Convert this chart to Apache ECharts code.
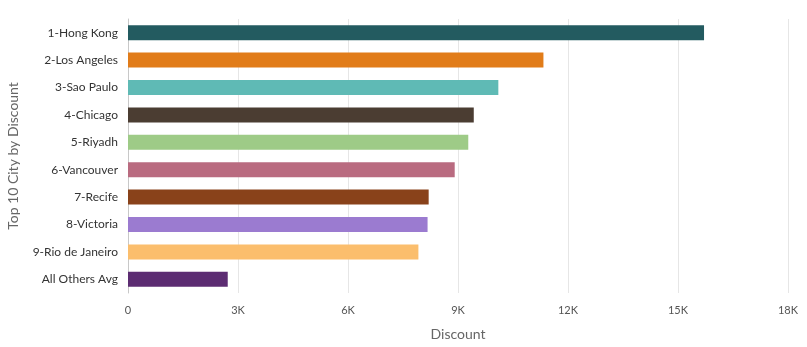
<!DOCTYPE html>
<html>
<head>
<meta charset="utf-8">
<script src="https://cdn.jsdelivr.net/npm/echarts@6/dist/echarts.min.js"></script>
<style>
  html, body { margin: 0; padding: 0; background: #fff; }
  #chart { width: 807px; height: 347px; }
</style>
</head>
<body>
<div id="chart"></div>
<script>
// Top 10 cities ranked by total discount
const cities = ['1-Hong Kong', '2-Los Angeles', '3-Sao Paulo', '4-Chicago', '5-Riyadh',
  '6-Vancouver', '7-Recife', '8-Victoria', '9-Rio de Janeiro', 'All Others Avg'];
const discounts = [15710, 11330, 10100, 9430, 9280, 8910, 8200, 8170, 7920, 2720];
const barColors = ['#235b60', '#e17c19', '#5fbab5', '#4b3d32', '#9ecb87',
  '#b96b80', '#89421a', '#9b7bd0', '#fbbe6d', '#5c2c72'];
const xTicks = { min: 0, max: 18000, interval: 3000 };

const chart = echarts.init(document.getElementById('chart'));
const font = 'Lato, "Open Sans", sans-serif';

chart.setOption({
  animation: false,
  grid: { left: 128, right: 19, top: 19, bottom: 54, outerBoundsMode: 'none', containLabel: false },
  xAxis: {
    type: 'value',
    min: xTicks.min, max: xTicks.max, interval: xTicks.interval,
    name: 'Discount',
    nameLocation: 'middle',
    nameGap: 34,
    nameTextStyle: { color: '#666', fontSize: 14, fontFamily: font },
    axisLine: { show: false },
    axisTick: { show: false },
    axisLabel: {
      color: '#555', fontSize: 11, fontFamily: font, margin: 12,
      formatter: v => v === 0 ? '0' : (v / 1000) + 'K'
    },
    splitLine: { lineStyle: { color: '#e6e6e6', width: 1 } }
  },
  yAxis: {
    type: 'category',
    data: cities,
    inverse: true,
    name: 'Top 10 City by Discount',
    nameLocation: 'middle',
    nameGap: 108,
    nameTextStyle: { color: '#666', fontSize: 14, fontFamily: font },
    axisLine: { show: true, lineStyle: { color: '#c8c8c8' } },
    axisTick: { show: false },
    axisLabel: { color: '#333', fontSize: 12, fontFamily: font, margin: 10 }
  },
  series: [{
    type: 'bar',
    data: discounts.map((v, i) => ({ value: v, itemStyle: { color: barColors[i] } })),
    barWidth: 15
  }]
});
</script>
</body>
</html>
